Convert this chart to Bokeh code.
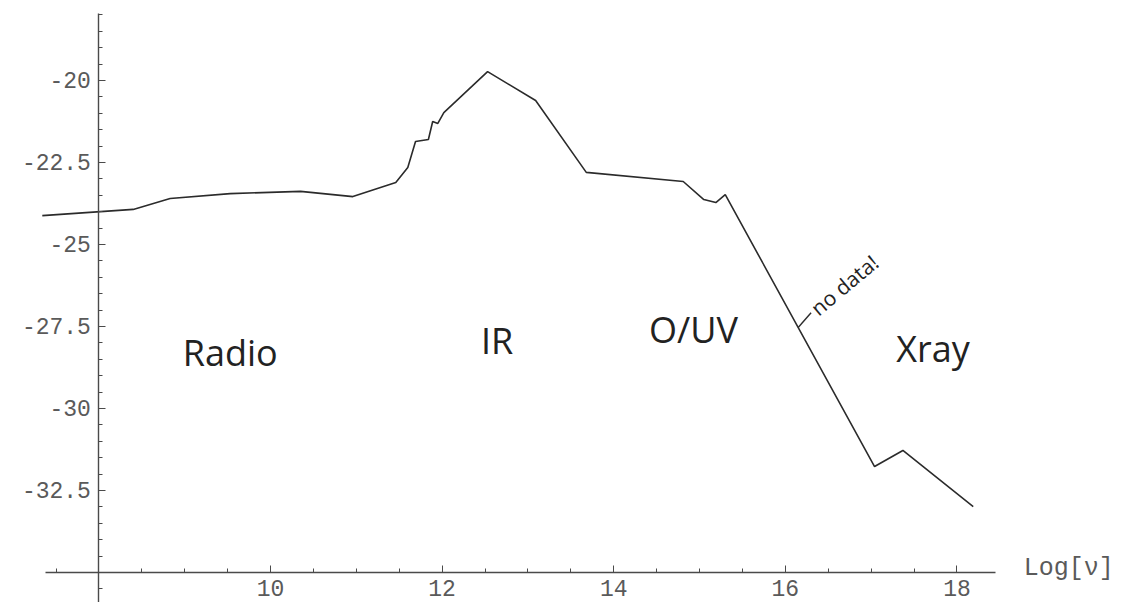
from bokeh.plotting import figure
from bokeh.models import Range1d, FixedTicker, CustomJSTickFormatter
from bokeh.core.properties import value
from bokeh.embed import file_html
from bokeh.resources import INLINE
import numpy as np

# Spectral energy distribution
log_nu = [7.34, 8.40, 8.83, 9.53, 10.35, 10.96, 11.46, 11.60, 11.69, 11.84,
          11.89, 11.95, 12.02, 12.53, 13.09, 13.68, 14.81, 15.05, 15.19, 15.30,
          17.04, 17.37, 18.19]
log_flux = [-24.12, -23.93, -23.60, -23.45, -23.38, -23.54, -23.11, -22.65, -21.86, -21.80,
            -21.25, -21.31, -20.98, -19.73, -20.61, -22.80, -23.08, -23.63, -23.72, -23.48,
            -31.77, -31.28, -32.99]

x_ticks = [10, 12, 14, 16, 18]
y_ticks = [-20, -22.5, -25, -27.5, -30, -32.5]

band_names = ["Radio", "IR", "O/UV", "Xray"]
band_x = [9.53, 12.64, 14.93, 17.72]
band_y = [-28.29, -27.93, -27.60, -28.17]

note_text = ["no data!"]
note_x = [16.33]
note_y = [-27.02]
leader_x = [16.15, 16.30]
leader_y = [-27.53, -27.08]

axis_label = ["Log[\u03bd]"]
axis_label_x = [18.78]
axis_label_y = [-34.88]

p = figure(width=1121, height=602, output_backend="svg", toolbar_location=None,
           x_range=Range1d(6.853, 19.918), y_range=Range1d(-35.915, -17.561),
           min_border=0, min_border_left=0, min_border_right=0,
           min_border_top=0, min_border_bottom=0)
p.outline_line_color = None
p.xgrid.visible = False
p.ygrid.visible = False
p.background_fill_color = "white"

mono = "Liberation Mono"
for ax in (p.xaxis[0], p.yaxis[0]):
    ax.axis_line_color = "#4a4a4a"
    ax.axis_line_width = 1.4
    ax.major_tick_line_color = "#4a4a4a"
    ax.minor_tick_line_color = "#4a4a4a"
    ax.major_tick_in = 7
    ax.major_tick_out = 0
    ax.minor_tick_in = 4
    ax.minor_tick_out = 0
    ax.major_label_text_font = mono
    ax.major_label_text_font_size = "23px"
    ax.major_label_text_color = "#5a5a5a"
    ax.major_label_standoff = 8
    ax.formatter = CustomJSTickFormatter(code="return String(tick)")

p.xaxis.fixed_location = -35.0
p.yaxis.fixed_location = 8.0
p.xaxis.bounds = (7.38, 18.45)
p.yaxis.bounds = (-35.915, -17.96)
p.xaxis.ticker = FixedTicker(ticks=x_ticks, minor_ticks=list(np.arange(7.5, 18.45, 0.5)))
p.yaxis.ticker = FixedTicker(ticks=y_ticks, minor_ticks=list(np.arange(-35.5, -17.9, 0.5)))

p.line(log_nu, log_flux, line_color="#2b2b2b", line_width=1.6)

p.text(band_x, band_y, text=band_names, text_font=value("Open Sans"),
       text_font_size="36px", text_color="#222222",
       text_align="center", text_baseline="middle")

p.line(leader_x, leader_y, line_color="#2b2b2b", line_width=1.4)
p.text(note_x, note_y, text=note_text, text_font=value("Open Sans"),
       text_font_size="21px", text_color="#222222", angle=np.radians(40),
       text_align="left", text_baseline="middle")

p.text(axis_label_x, axis_label_y, text=axis_label, text_font=value(mono),
       text_font_size="25px", text_color="#5a5a5a",
       text_align="left", text_baseline="middle")

open("out.html", "w").write(file_html(p, INLINE))
